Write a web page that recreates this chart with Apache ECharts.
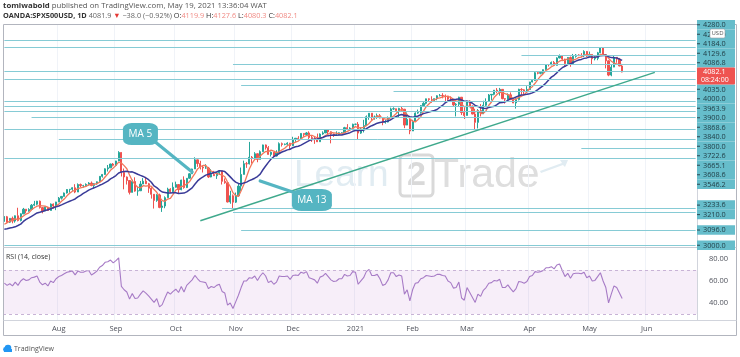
<!DOCTYPE html>
<html><head><meta charset="utf-8">
<script src="https://cdn.jsdelivr.net/npm/echarts@6/dist/echarts.min.js"></script>
<style>html,body{margin:0;padding:0;background:#fff}#c{width:740px;height:357px}</style>
</head><body><div id="c"></div>
<script>
// ---------- data ----------
const startDate = '2020-07-06';   // first weekday bar shown
const totalBars = 255;            // weekday slots on the time axis (data + empty future)
const monthNames = ['Jan','Feb','Mar','Apr','May','Jun','Jul','Aug','Sep','Oct','Nov','Dec'];

const opens = [
 3150,3179,3145,3169,3152,3185,3155,3197,3226,3215,3224,3251,3257,3276,3236,3215,3239,3218,3258,3246,
 3271,3295,3306,3327,3349,3351,3360,3333,3380,3373,3373,3381,3389,3374,3385,3397,3431,3443,3478,3484,3508,
 3500,3527,3580,3455,3427,3405,3331,3399,3339,3341,3383,3401,3385,3357,3319,3281,3315,3237,3246,3298,3351,3335,
 3363,3380,3348,3408,3361,3419,3447,3477,3534,3511,3488,3483,3483,3427,3443,3435,3453,3465,3400,3391,3271,3310,
 3270,3310,3370,3443,3510,3509,3550,3545,3572,3537,3585,3627,3610,3568,3582,3558,3578,3635,3630,3632,3638,
 3622,3662,3669,3666,3699,3692,3702,3673,3668,3663,3647,3695,3702,3722,3709,3695,3687,3690,3703,3703,3735,3727,3732,
 3756,3756,3701,3726,3748,3803,3825,3799,3801,3810,3795,3768,3770,3798,3852,3853,3841,3855,3850,3751,3787,
 3714,3774,3826,3830,3872,3887,3915,3911,3910,3916,3934,3936,3933,3932,3913,3906,3877,3881,3925,3829,
 3811,3901,3870,3820,3768,3842,3821,3875,3898,3939,3943,3969,3962,3974,3916,3913,3940,3910,3889,3910,3974,3971,3959,
 3973,4020,4030,4078,4074,4080,4097,4129,4128,4142,4124,4170,4185,4163,4135,4173,4135,4180,4188,4187,4183,4211,
 4181,4192,4165,4168,4202,4233,4189,4152,4063,4113,4174,4163,4119.9
];
const highs = [
 3183,3184,3170,3180,3187,3235,3200,3234,3226,3232,3258,3278,3278,3280,3238,3242,3240,3262,3262,3272,
 3302,3308,3330,3351,3352,3363,3382,3387,3386,3378,3387,3395,3399,3388,3399,3432,3445,3481,3502,3510,3514,
 3528,3588,3582,3480,3430,3406,3410,3425,3365,3402,3420,3428,3390,3363,3320,3320,3323,3278,3306,3360,3357,3393,
 3398,3382,3410,3431,3420,3450,3479,3550,3535,3528,3499,3507,3490,3476,3465,3460,3466,3465,3418,3391,3341,3318,
 3330,3390,3486,3529,3521,3646,3558,3582,3574,3593,3629,3630,3620,3586,3582,3594,3643,3642,3636,3644,3640,
 3678,3670,3682,3701,3700,3708,3712,3685,3680,3698,3699,3712,3726,3725,3712,3698,3712,3705,3706,3740,3757,3738,3760,
 3760,3770,3737,3784,3811,3826,3826,3811,3823,3820,3796,3782,3805,3860,3862,3853,3859,3870,3852,3830,3790,
 3784,3830,3848,3876,3894,3916,3918,3931,3917,3937,3945,3950,3942,3933,3930,3902,3888,3928,3926,3862,
 3903,3906,3873,3853,3851,3882,3903,3918,3945,3945,3970,3982,3983,3975,3918,3949,3955,3915,3919,3978,3981,3975,3994,
 4021,4035,4084,4086,4084,4098,4129,4131,4148,4151,4174,4192,4188,4165,4175,4179,4195,4194,4193,4200,4218,4199,
 4210,4193,4187,4208,4238,4237,4192,4155,4131,4183,4175,4170,4127.6
];
const lows = [
 3148,3142,3140,3138,3142,3150,3150,3195,3200,3210,3220,3245,3250,3230,3200,3214,3215,3218,3230,3220,
 3270,3286,3306,3324,3329,3340,3326,3333,3364,3361,3369,3373,3369,3355,3379,3397,3423,3440,3461,3484,3493,
 3494,3526,3430,3350,3380,3318,3330,3335,3310,3341,3383,3383,3328,3292,3230,3272,3232,3209,3232,3298,3327,3332,
 3361,3323,3344,3354,3358,3418,3446,3478,3490,3474,3455,3478,3421,3425,3433,3415,3440,3380,3385,3268,3260,3233,
 3265,3305,3340,3443,3484,3505,3511,3545,3519,3537,3585,3598,3567,3555,3552,3555,3578,3617,3625,3624,3595,
 3620,3646,3658,3664,3678,3685,3662,3646,3634,3645,3647,3690,3702,3694,3637,3677,3686,3688,3700,3703,3724,3717,3725,
 3750,3662,3696,3705,3750,3784,3780,3785,3790,3793,3750,3760,3768,3797,3845,3829,3797,3840,3732,3750,3694,
 3716,3775,3821,3822,3870,3880,3900,3890,3901,3906,3930,3918,3900,3900,3895,3868,3805,3869,3814,3789,
 3811,3868,3818,3723,3730,3805,3821,3870,3898,3905,3937,3950,3935,3912,3885,3897,3908,3888,3854,3905,3940,3937,3955,
 3975,4018,4028,4068,4068,4069,4096,4117,4124,4122,4125,4168,4150,4118,4133,4115,4138,4172,4181,4176,4175,4175,
 4181,4126,4155,4156,4200,4187,4105,4056,4056,4114,4140,4118,4080.3
];
const closes = [
 3179,3145,3169,3152,3185,3155,3197,3226,3215,3224,3251,3257,3276,3236,3215,3239,3218,3258,3246,3271,
 3295,3306,3327,3349,3351,3360,3333,3380,3373,3373,3381,3389,3374,3385,3397,3431,3443,3478,3484,3508,3500,
 3527,3580,3455,3427,3405,3331,3399,3339,3341,3383,3401,3385,3357,3319,3281,3315,3237,3246,3298,3351,3335,3363,
 3380,3348,3408,3361,3419,3447,3477,3534,3511,3488,3483,3483,3427,3443,3435,3453,3465,3400,3391,3271,3310,3270,
 3310,3370,3443,3510,3509,3550,3545,3572,3537,3585,3627,3610,3568,3582,3558,3578,3635,3630,3632,3638,3622,
 3662,3669,3666,3699,3692,3702,3673,3668,3663,3647,3695,3702,3722,3709,3695,3687,3690,3703,3703,3735,3727,3732,3756,
 3756,3701,3726,3748,3803,3825,3799,3801,3810,3795,3768,3770,3798,3852,3853,3841,3855,3850,3751,3787,3714,
 3774,3826,3830,3872,3887,3915,3911,3910,3916,3934,3936,3933,3932,3913,3906,3877,3881,3925,3829,3811,
 3901,3870,3820,3768,3842,3821,3875,3898,3939,3943,3969,3962,3974,3916,3913,3940,3910,3889,3910,3974,3971,3959,3973,
 4020,4030,4078,4074,4080,4097,4129,4128,4142,4124,4170,4185,4163,4135,4173,4135,4180,4188,4187,4183,4211,4181,
 4192,4165,4168,4202,4233,4189,4152,4063,4113,4174,4163,4120.1,4082.1
];
// closes of the bars before the visible range, used only to start the moving averages
const warmupCloses = [3115,3098,3117,3131,3050,3084,3009,3053,3100,3116,3130,3135];
const rsiValues = [
 58,56,57.5,55.5,59,56,60,62,60.5,61,63,63.5,64.5,59,56.5,58,55.5,60,58.5,62,
 64,65,66.5,68,68.5,69,65.5,69,68,68,69,69.5,65.5,67,69,72.5,74,77,77.5,79,76.5,
 78.5,81,55,52,50,43.5,48.5,44,44.5,48,51,49,46.5,43.5,40.5,44,36.5,38.5,44.5,50,48,50.5,
 52.5,49.5,55,50,56,58.5,61,65,62,59.5,59,58.5,53,55,54,56,57,50.5,49,38,40,35,
 41,47,54,60,60,63,62.5,64.5,60.5,64.5,67.5,64.5,58.5,60,57,59,64.5,64,64,64.5,61.5,
 65,65.5,65,68,67,68.5,63,62,61,58,63.5,64.5,67,64,61,59.5,60,62,62,66,64.5,65,68.5,
 68,57,60,63,68.5,70.5,65,65,66,62,56,57,61,67.5,67.5,64,65.5,64.5,48,52,42,
 52,58,58.5,62,63,65,64.5,64,64.5,66,66,65,64.5,60,58.5,53.5,54,59,44.5,42.5,
 54,49.5,45,40.5,48,46,51.5,54,58,58.5,60.5,60,61.5,54,54,56.5,53,50,53,59.5,59,58,59.5,
 64,65,68.5,68,68.5,69.5,72,72,73,71,74.5,75.5,69.5,64,67,62.5,66.5,67,67,66.5,68,63,
 64.5,60,60.5,64,67.5,60,54,40,48,55.5,54,49,44
];
// horizontal price levels and the bar where each one starts
const levelPrices = [4280.0,4238.0,4184.0,4129.6,4086.8,4035.0,4000.0,3963.9,3900.0,3868.6,3840.0,3800.0,3722.6,3665.1,3608.6,3546.2,3233.6,3210.0,3096.0,3000.0];
const levelStartBar = [0,0,190,84,0,0,87,143,0,0,0,10,0,20,212,0,80,84,87,0];
const lastPrice = 4082.1;
const countdown = '08:24:00';
// trend line: [bar index, price]
const trendLine = [[72, 3154], [239, 4080]];
// callouts: label, box anchor [bar, price], pointer from [bar, price] to [bar, price]
const callouts = [
  {name:'MA 5',  box:[50, 3695],  from:[55, 3651], to:[69, 3458], w:35},
  {name:'MA 13', box:[113, 3283], from:[94, 3402], to:[107, 3327], w:40}
];
const rsiTicks = [40, 60, 80];

// ---------- categories ----------
const cats = [];
(function(){
  const d = new Date(startDate + 'T00:00:00Z');
  while (cats.length < totalBars) {
    const wd = d.getUTCDay();
    if (wd !== 0 && wd !== 6) cats.push(d.toISOString().slice(0, 10));
    d.setUTCDate(d.getUTCDate() + 1);
  }
})();
const isMonthStart = (i) => i > 0 && cats[i].slice(0, 7) !== cats[i - 1].slice(0, 7);
const monthLabel = (v) => { const m = +v.slice(5, 7); return m === 1 ? v.slice(0, 4) : monthNames[m - 1]; };

function sma(n) {
  const all = warmupCloses.concat(closes), out = [];
  for (let i = warmupCloses.length; i < all.length; i++) {
    let s = 0; for (let k = i - n + 1; k <= i; k++) s += all[k];
    out.push(+(s / n).toFixed(2));
  }
  return out;
}
const candles = closes.map((c, i) => [opens[i], c, lows[i], highs[i]]);
const ma5 = sma(5), ma13 = sma(13);

const FONT = '"Open Sans", "Noto Sans", sans-serif';
const lastCat = cats[cats.length - 1];
const levelLines = levelPrices.map((p, i) => [{coord: [cats[levelStartBar[i]], p]}, {coord: [lastCat, p]}]);
levelLines.push([
  {coord: [cats[trendLine[0][0]], trendLine[0][1]], lineStyle: {color: '#3fa98c', width: 1.4, type: 'solid'}},
  {coord: [cats[trendLine[1][0]], trendLine[1][1]]}
]);
const pointerLines = callouts.map(c => [
  {coord: [cats[c.from[0]], c.from[1]], lineStyle: {color: '#55b5c2', width: 3.2, type: 'solid', cap: 'round'}},
  {coord: [cats[c.to[0]], c.to[1]]}
]);
const boxPoints = callouts.map(c => ({
  coord: [cats[c.box[0]], c.box[1]], symbolSize: [c.w, 22],
  label: {formatter: c.name}
}));

const chart = echarts.init(document.getElementById('c'), null, {renderer: 'canvas'});
const option = {
  animation: false,
  grid: [
    {left: 3, right: 43, top: 24, height: 223},
    {left: 3, right: 43, top: 247, height: 73}
  ],
  xAxis: [
    {type: 'category', gridIndex: 0, data: cats, boundaryGap: true,
     axisLine: {show: false}, axisTick: {show: false}, axisLabel: {show: false},
     splitLine: {show: true, interval: isMonthStart, lineStyle: {color: '#f0f3f8'}}},
    {type: 'category', gridIndex: 1, data: cats, boundaryGap: true,
     axisLine: {show: false}, axisTick: {show: false},
     axisLabel: {show: true, interval: isMonthStart, formatter: monthLabel, color: '#4f525c',
                 fontSize: 7.5, fontFamily: FONT, margin: 5},
     splitLine: {show: true, interval: isMonthStart, lineStyle: {color: '#f0f3f8'}}}
  ],
  yAxis: [
    {type: 'value', gridIndex: 0, position: 'right', min: 2990, max: 4382, scale: true,
     axisLine: {show: false}, axisTick: {show: false}, axisLabel: {show: false}, splitLine: {show: false}},
    {type: 'value', gridIndex: 1, position: 'right', min: 24.5, max: 90.9,
     axisLine: {show: false}, axisTick: {show: false}, splitLine: {show: false},
     axisLabel: {customValues: rsiTicks, formatter: v => v.toFixed(2), color: '#4f525c',
                 fontSize: 7.5, fontFamily: FONT, margin: 12}}
  ],
  series: [
    {type: 'candlestick', name: 'SPX500USD', xAxisIndex: 0, yAxisIndex: 0, data: candles,
     barWidth: '62%',
     itemStyle: {color: '#26a69a', color0: '#ef5350', borderColor: '#26a69a', borderColor0: '#ef5350', borderWidth: 1},
     markLine: {silent: true, symbol: ['none', 'none'], label: {show: false}, animation: false,
                lineStyle: {color: '#86cbd5', width: 1, type: 'solid'}, emphasis: {disabled: true},
                data: levelLines}},
    {type: 'line', name: 'MA 5', xAxisIndex: 0, yAxisIndex: 0, data: ma5, showSymbol: false,
     lineStyle: {color: '#f2775a', width: 1.3}, itemStyle: {color: '#f2775a'}, z: 3, silent: true},
    {type: 'line', name: 'MA 13', xAxisIndex: 0, yAxisIndex: 0, data: ma13, showSymbol: false,
     lineStyle: {color: '#3a3b98', width: 1.5}, itemStyle: {color: '#3a3b98'}, z: 3, silent: true,
     markLine: {silent: true, symbol: ['none', 'none'], label: {show: false}, animation: false,
                lineStyle: {type: 'solid'}, emphasis: {disabled: true}, data: pointerLines},
     markPoint: {silent: true, symbol: 'roundRect', animation: false,
                 itemStyle: {color: '#55b5c2'},
                 label: {show: true, position: 'inside', color: '#ffffff', fontSize: 10, fontFamily: FONT},
                 data: boxPoints}},
    {type: 'line', name: 'RSI', xAxisIndex: 1, yAxisIndex: 1, data: rsiValues, showSymbol: false,
     lineStyle: {color: '#a77bc6', width: 1.1}, itemStyle: {color: '#a77bc6'}, silent: true,
     markArea: {silent: true, itemStyle: {color: 'rgba(156, 39, 176, 0.08)'}, data: [[{yAxis: 30}, {yAxis: 70}]]},
     markLine: {silent: true, symbol: ['none', 'none'], label: {show: false}, animation: false,
                lineStyle: {color: '#c8b3d6', width: 1, type: [3, 3]},
                data: [{yAxis: 70}, {yAxis: 30}]}}
  ]
};
chart.setOption(option);

// ---------- price-axis labels (stacked like TradingView) ----------
const items = levelPrices.map(p => ({p, h: 9.5, kind: 'level'}));
items.push({p: lastPrice, h: 17, kind: 'last'});
items.forEach(it => { it.y = chart.convertToPixel({yAxisIndex: 0}, it.p); it.want = it.y - 4.75; });
items.sort((a, b) => a.y - b.y);
(function layout(minTop, maxBottom) {
  let groups = items.map(it => ({items: [it], h: it.h, top: it.want}));
  let changed = true, guard = 0;
  while (changed && guard++ < 500) {
    changed = false;
    groups.forEach(g => {
      if (g.top < minTop) g.top = minTop;
      if (g.top + g.h > maxBottom) g.top = maxBottom - g.h;
    });
    for (let i = 1; i < groups.length; i++) {
      const a = groups[i - 1], b = groups[i];
      if (b.top < a.top + a.h - 0.01) {
        const its = a.items.concat(b.items);
        let off = 0, sum = 0;
        its.forEach(it => { sum += it.want - off; off += it.h; });
        groups.splice(i - 1, 2, {items: its, h: off, top: sum / its.length});
        changed = true; break;
      }
    }
  }
  groups.forEach(g => { let t = g.top; g.items.forEach(it => { it.top = t; t += it.h; }); });
})(20, 250);

const AX = 697, AW = 38;
const g = [];
// watermark
g.push({type: 'text', z: -10, style: {text: 'Learn', x: 294, y: 176, verticalAlign: 'middle',
        font: '37px "Liberation Sans", sans-serif', fill: '#e1ecf2'}});
g.push({type: 'rect', z: -10, shape: {x: 400, y: 155, width: 33, height: 41, r: 4},
        style: {fill: 'none', stroke: '#d9d9d9', lineWidth: 3}});
g.push({type: 'text', z: -10, style: {text: '2', x: 416.5, y: 176, align: 'center', verticalAlign: 'middle',
        font: 'bold 34px "Liberation Sans", sans-serif', fill: '#d9d9d9'}});
g.push({type: 'text', z: -10, style: {text: 'Trade', x: 434, y: 176, verticalAlign: 'middle',
        font: '41px "Liberation Sans", sans-serif', fill: '#dedede'}});
g.push({type: 'polygon', z: -10, shape: {points: [[540, 171], [562, 163], [560, 160], [568, 160], [565, 167], [563, 165], [541, 173]]},
        style: {fill: '#e1ecf2'}});
// frame
g.push({type: 'rect', z: 20, shape: {x: 3.5, y: 24.5, width: 733, height: 311}, style: {fill: 'none', stroke: '#b2b5be', lineWidth: 1}});
g.push({type: 'line', z: 20, shape: {x1: 3.5, y1: 320.5, x2: 736.5, y2: 320.5}, style: {stroke: '#d1d4dc', lineWidth: 1}});
g.push({type: 'line', z: 20, shape: {x1: 3.5, y1: 247.5, x2: 736.5, y2: 247.5}, style: {stroke: '#c9ccd4', lineWidth: 1}});
g.push({type: 'line', z: 20, shape: {x1: 697.5, y1: 24.5, x2: 697.5, y2: 320.5}, style: {stroke: '#d1d4dc', lineWidth: 1}});
// header
g.push({type: 'text', z: 30, style: {x: 3, y: 6, verticalAlign: 'middle',
  text: '{b|tomiwabold} published on TradingView.com, May 19, 2021 13:36:04 WAT',
  fontSize: 7.8, fontFamily: FONT, fill: '#555',
  rich: {b: {fontWeight: 'bold', fill: '#333', fontSize: 7.8, fontFamily: FONT}}}});
g.push({type: 'text', z: 30, style: {x: 3, y: 15.5, verticalAlign: 'middle',
  text: '{b|OANDA:SPX500USD, 1D} 4081.9 {r|▼} −38.0 (−0.92%) {k|O:}{v|4119.9} {k|H:}{v|4127.6} {k|L:}{v|4080.3} {k|C:}{v|4082.1}',
  fontSize: 7.3, fontFamily: FONT, fill: '#666',
  rich: {b: {fontWeight: 'bold', fill: '#333', fontSize: 7.3, fontFamily: FONT},
         r: {fill: '#e53935', fontSize: 7.3}, k: {fill: '#333', fontSize: 7.3, fontFamily: FONT},
         v: {fill: '#f08a84', fontSize: 7.3, fontFamily: FONT}}}});
// RSI title
g.push({type: 'text', z: 30, style: {x: 6, y: 257, verticalAlign: 'middle', text: 'RSI (14, close)',
  fontSize: 7, fontFamily: FONT, fill: '#333'}});
// footer logo
g.push({type: 'circle', z: 30, shape: {cx: 8, cy: 348, r: 3.3}, style: {fill: '#2196f3'}});
g.push({type: 'circle', z: 30, shape: {cx: 5.5, cy: 349.5, r: 2.4}, style: {fill: '#2196f3'}});
g.push({type: 'rect', z: 30, shape: {x: 4, y: 349, width: 8, height: 3}, style: {fill: '#2196f3'}});
g.push({type: 'text', z: 30, style: {x: 14, y: 349, verticalAlign: 'middle', text: 'TradingView',
  fontSize: 7, fontFamily: FONT, fill: '#555'}});
// price labels
items.forEach(it => {
  if (it.kind === 'level') {
    g.push({type: 'rect', z: 25, shape: {x: AX, y: it.top, width: AW, height: it.h}, style: {fill: '#66bdcb'}});
    g.push({type: 'line', z: 26, shape: {x1: AX, y1: it.top + 4.75, x2: AX + 3, y2: it.top + 4.75}, style: {stroke: '#2c4a52', lineWidth: 1}});
    g.push({type: 'text', z: 26, style: {x: AX + 6, y: it.top + 5, verticalAlign: 'middle', text: it.p.toFixed(1),
      fontSize: 7.3, fontFamily: FONT, fill: '#213f47'}});
  } else {
    g.push({type: 'rect', z: 27, shape: {x: AX, y: it.top, width: AW, height: it.h, r: 1}, style: {fill: '#ef5350'}});
    g.push({type: 'text', z: 28, style: {x: AX + 6, y: it.top + 4.5, verticalAlign: 'middle', text: it.p.toFixed(1),
      fontSize: 7.3, fontFamily: FONT, fill: '#ffffff'}});
    g.push({type: 'text', z: 28, style: {x: AX + 4, y: it.top + 12.5, verticalAlign: 'middle', text: countdown,
      fontSize: 7, fontFamily: FONT, fill: '#ffffff'}});
  }
});
// currency badge
g.push({type: 'rect', z: 29, shape: {x: 710, y: 29, width: 15, height: 9, r: 1.5}, style: {fill: '#ffffff', stroke: '#9aa0a6', lineWidth: 0.6}});
g.push({type: 'text', z: 30, style: {x: 717.5, y: 33.7, align: 'center', verticalAlign: 'middle', text: 'USD',
  fontSize: 6, fontFamily: FONT, fill: '#555'}});
chart.setOption({graphic: g});
</script></body></html>
